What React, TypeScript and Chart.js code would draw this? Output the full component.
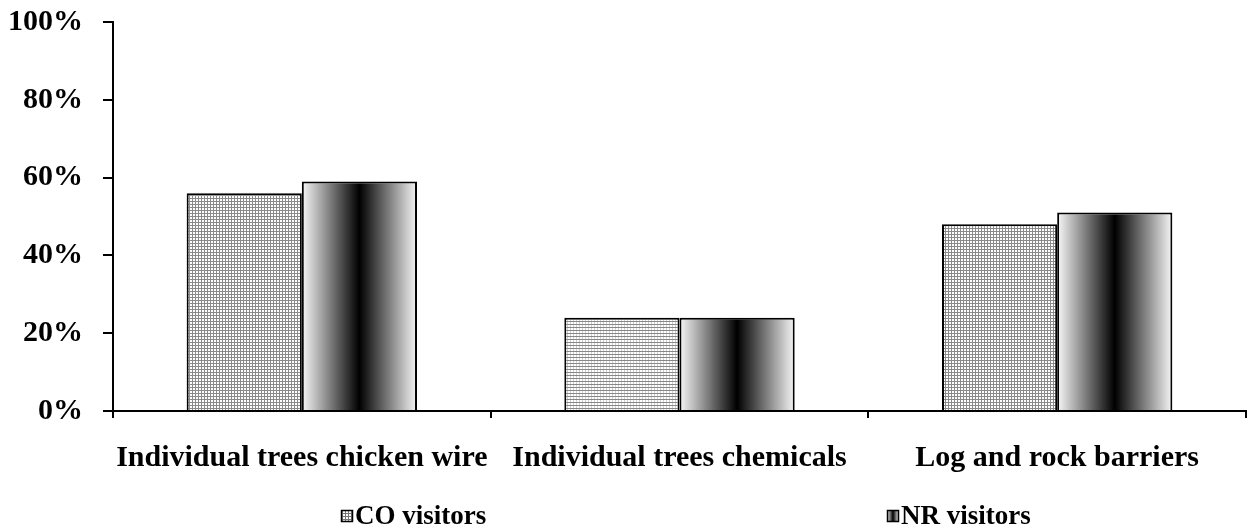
import { useEffect, useRef } from 'react';
import { Chart, registerables } from 'chart.js';

Chart.register(...registerables);

// Chart data
const categories = ['Individual trees chicken wire', 'Individual trees chemicals', 'Log and rock barriers'];
const seriesNames = ['CO visitors', 'NR visitors'];
const coVisitors = [56, 24, 48];
const nrVisitors = [59, 24, 51];
const yTickValues = [0, 20, 40, 60, 80, 100];

const FONT = '"Liberation Serif", "Times New Roman", serif';
const GROUP_SHARE = 0.61;

// Fine cross-hatch fill used for the CO series
function hatch(hColor: string, vColor: string): CanvasPattern | string {
  const c = document.createElement('canvas');
  c.width = 3;
  c.height = 3;
  const g = c.getContext('2d');
  if (!g) return '#ccc';
  g.fillStyle = '#ffffff';
  g.fillRect(0, 0, 3, 3);
  g.fillStyle = vColor;
  g.fillRect(0, 0, 1, 3);
  g.fillStyle = hColor;
  g.fillRect(0, 0, 3, 1);
  return g.createPattern(c, 'repeat') || '#ccc';
}

// White -> black -> white horizontal ramp across a box
function ramp(ctx: CanvasRenderingContext2D, x0: number, x1: number): CanvasGradient | string {
  if (!isFinite(x0) || !isFinite(x1) || x1 <= x0) return '#888';
  const grad = ctx.createLinearGradient(x0, 0, x1, 0);
  grad.addColorStop(0, '#f8f8f8');
  grad.addColorStop(0.5, '#000000');
  grad.addColorStop(1, '#f6f6f6');
  return grad;
}

// Legend drawn with the two entries spread across the bottom
const spreadLegend = {
  id: 'spreadLegend',
  afterDraw(chart: any) {
    const { ctx, width, height } = chart;
    const starts = [0.2735, 0.7113];
    const box = 12;
    const cy = height - 13;
    ctx.save();
    ctx.font = `bold 27px ${FONT}`;
    ctx.textBaseline = 'middle';
    ctx.textAlign = 'left';
    seriesNames.forEach((name, i) => {
      const x = Math.round(width * starts[i]);
      const top = Math.round(cy - box / 2);
      ctx.fillStyle = i === 0 ? hatch('#777', '#777') : ramp(ctx, x, x + box);
      ctx.fillRect(x, top, box, box);
      ctx.strokeStyle = '#000';
      ctx.lineWidth = 1.5;
      ctx.strokeRect(x + 0.5, top + 0.5, box - 1, box - 1);
      ctx.fillStyle = '#000';
      ctx.fillText(name, x + box + 2, cy + 1);
    });
    ctx.restore();
  },
};

export default function App() {
  const canvasRef = useRef<HTMLCanvasElement | null>(null);

  useEffect(() => {
    const canvas = canvasRef.current;
    if (!canvas) return;

    const coFills = [hatch('#8a8a8a', '#8a8a8a'), hatch('#888', '#d0d0d0'), hatch('#8a8a8a', '#8a8a8a')];

    const chart = new Chart(canvas, {
      type: 'bar',
      data: {
        labels: categories,
        datasets: [
          {
            label: seriesNames[0],
            data: coVisitors,
            backgroundColor: coFills as any,
            borderColor: '#000',
            borderWidth: 2,
            borderSkipped: 'bottom',
            categoryPercentage: GROUP_SHARE,
            barPercentage: 1,
          },
          {
            label: seriesNames[1],
            data: nrVisitors,
            backgroundColor: (c: any) => {
              const ch = c.chart;
              const xs = ch.scales && ch.scales.x;
              if (!xs || c.type !== 'data') return '#888';
              const center = xs.getPixelForValue(c.dataIndex);
              const bw = ((xs.right - xs.left) / categories.length) * GROUP_SHARE / 2;
              return ramp(ch.ctx, center, center + bw);
            },
            borderColor: '#000',
            borderWidth: 2,
            borderSkipped: 'bottom',
            categoryPercentage: GROUP_SHARE,
            barPercentage: 1,
          },
        ],
      },
      options: {
        animation: false,
        responsive: true,
        maintainAspectRatio: false,
        layout: { padding: { top: 22, right: 1, bottom: 31, left: 0 } },
        plugins: {
          legend: { display: false },
          tooltip: { enabled: false },
        },
        scales: {
          x: {
            grid: {
              display: true,
              drawOnChartArea: false,
              drawTicks: true,
              tickLength: 7,
              color: '#000',
              lineWidth: 2,
              offset: true,
            },
            border: { display: true, color: '#000', width: 2 },
            ticks: {
              color: '#000',
              font: { family: FONT, weight: 'bold', size: 30 },
              padding: 22,
              maxRotation: 0,
              autoSkip: false,
            },
          },
          y: {
            min: 0,
            max: 100,
            afterBuildTicks: (s: any) => {
              s.ticks = yTickValues.map((v) => ({ value: v }));
            },
            afterFit: (s: any) => {
              s.width = 113;
              s.paddingTop = 0;
              s.paddingBottom = 0;
            },
            grid: {
              display: true,
              drawOnChartArea: false,
              drawTicks: true,
              tickLength: 10,
              color: '#000',
              lineWidth: 2,
            },
            border: { display: true, color: '#000', width: 2 },
            ticks: {
              color: '#000',
              font: { family: FONT, weight: 'bold', size: 30 },
              padding: 20,
              callback: (v: any) => `${v}%`,
            },
          },
        },
      },
      plugins: [spreadLegend],
    });

    return () => chart.destroy();
  }, []);

  return (
    <div style={{ position: 'fixed', left: 0, top: 0, width: 1247, height: 529, background: '#fff' }}>
      <canvas ref={canvasRef} />
    </div>
  );
}
